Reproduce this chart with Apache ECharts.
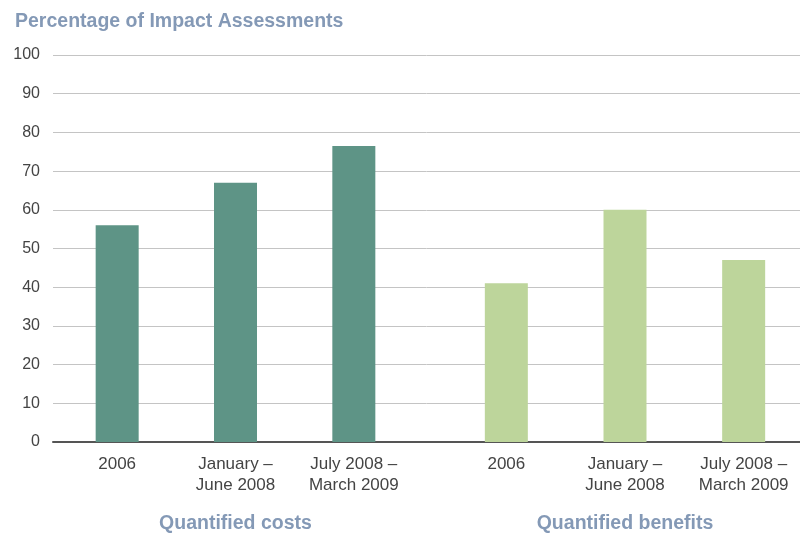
<!DOCTYPE html>
<html>
<head>
<meta charset="utf-8">
<script src="https://cdn.jsdelivr.net/npm/echarts@6/dist/echarts.min.js"></script>
<style>
  html, body { margin: 0; padding: 0; background: #ffffff; }
  #chart { width: 800px; height: 533px; }
</style>
</head>
<body>
<div id="chart"></div>
<script>
// Reporting periods shared by both groups
const periods = ['2006', 'January –\nJune 2008', 'July 2008 –\nMarch 2009'];
// Percentage of impact assessments with quantified costs / benefits
const costValues = [56, 67, 76.5];
const benefitValues = [41, 60, 47];
const groupNames = ['Quantified costs', 'Quantified benefits'];
const yTicks = { min: 0, max: 100, interval: 10 };
const chartTitle = 'Percentage of Impact Assessments';

const FONT = '"Liberation Sans", Arial, Helvetica, sans-serif';
const titleColor = '#8499b6';
const textColor = '#444444';
const TOP = 55, BOTTOM = 91;

const chart = echarts.init(document.getElementById('chart'), null, { renderer: 'canvas' });

function groupXAxis(gridIndex, name) {
  return {
    gridIndex: gridIndex,
    type: 'category',
    data: periods,
    axisLine: { show: false },
    axisTick: { show: false },
    axisLabel: {
      fontFamily: FONT, fontSize: 17, color: textColor,
      lineHeight: 21, margin: 12, interval: 0
    },
    name: name,
    nameLocation: 'middle',
    nameGap: 72,
    nameTextStyle: { fontFamily: FONT, fontSize: 19.5, fontWeight: 'bold', color: titleColor }
  };
}

function hiddenYAxis(gridIndex) {
  return {
    gridIndex: gridIndex, type: 'value',
    min: yTicks.min, max: yTicks.max, interval: yTicks.interval,
    show: false
  };
}

// Fixed-size plotting areas; labels are allowed to sit outside them
function plotArea(left, width, right) {
  const g = { top: TOP, bottom: BOTTOM, left: left, containLabel: false, outerBoundsMode: 'none' };
  if (width != null) g.width = width; else g.right = right;
  return g;
}

chart.setOption({
  animation: false,
  backgroundColor: '#ffffff',
  title: {
    text: chartTitle,
    left: 10, top: 7,
    textStyle: { fontFamily: FONT, fontSize: 19.5, fontWeight: 'bold', color: titleColor }
  },
  grid: [
    plotArea(53, null, 0),   // shared frame: value scale and baseline
    plotArea(58, 355),       // costs
    plotArea(447, 356)       // benefits
  ],
  xAxis: [
    {
      gridIndex: 0, type: 'value', min: 0, max: 1,
      axisLine: { show: true, lineStyle: { color: '#555555', width: 2 } },
      axisTick: { show: false }, axisLabel: { show: false }, splitLine: { show: false }
    },
    groupXAxis(1, groupNames[0]),
    groupXAxis(2, groupNames[1])
  ],
  yAxis: [
    {
      gridIndex: 0, type: 'value',
      min: yTicks.min, max: yTicks.max, interval: yTicks.interval,
      axisLine: { show: false }, axisTick: { show: false },
      axisLabel: { fontFamily: FONT, fontSize: 16, color: textColor, margin: 13 },
      splitLine: { show: true, lineStyle: { color: '#c4c4c4', width: 1 } }
    },
    hiddenYAxis(1),
    hiddenYAxis(2)
  ],
  series: [
    {
      name: groupNames[0], type: 'bar', xAxisIndex: 1, yAxisIndex: 1,
      data: costValues, barWidth: 43,
      itemStyle: { color: '#5e9486' }
    },
    {
      name: groupNames[1], type: 'bar', xAxisIndex: 2, yAxisIndex: 2,
      data: benefitValues, barWidth: 43,
      itemStyle: { color: '#bdd59b' }
    }
  ]
});
</script>
</body>
</html>
